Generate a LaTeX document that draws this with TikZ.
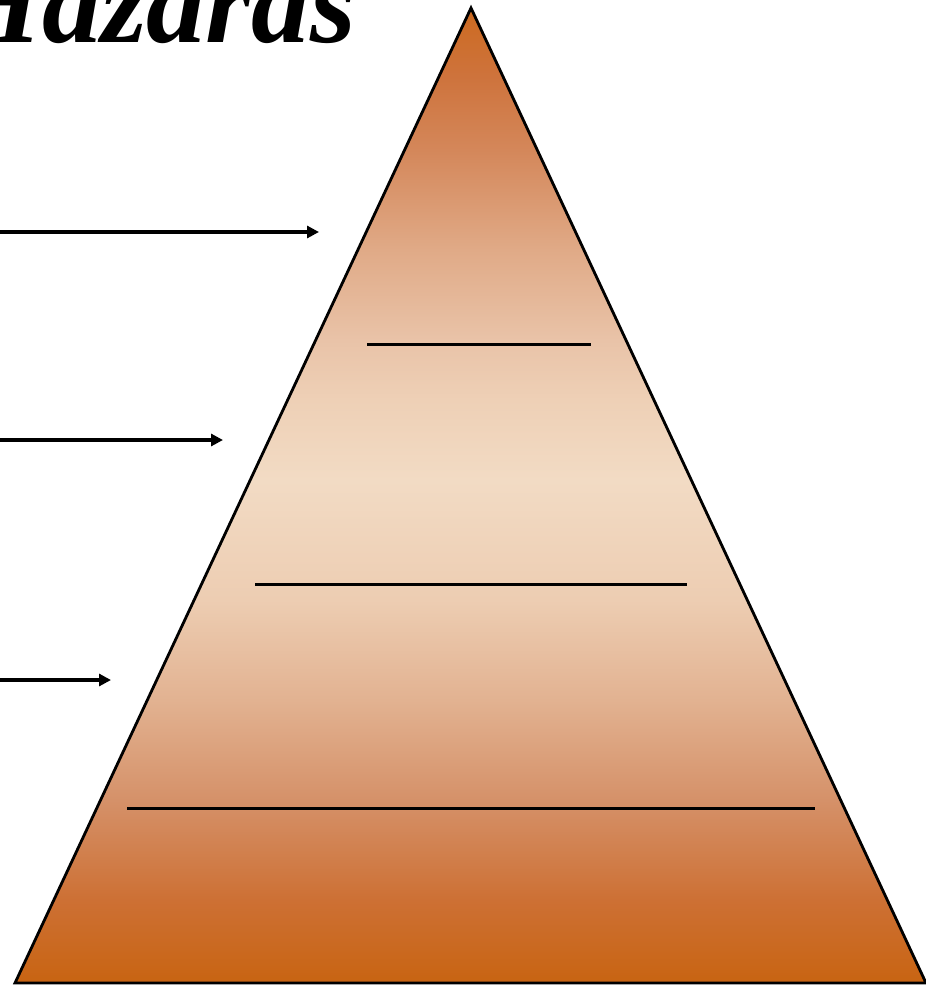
\documentclass[tikz,border=0pt]{standalone}
\usepackage{fontspec}
\setmainfont{Liberation Serif}
\usetikzlibrary{arrows.meta}
\definecolor{sA}{RGB}{200,100,18}
\definecolor{sB}{RGB}{205,112,52}
\definecolor{sC}{RGB}{213,145,105}
\definecolor{sD}{RGB}{226,178,145}
\definecolor{sE}{RGB}{237,205,178}
\definecolor{sF}{RGB}{242,219,196}
\definecolor{sG}{RGB}{238,208,182}
\definecolor{sH}{RGB}{233,195,168}
\definecolor{sI}{RGB}{224,170,135}
\definecolor{sJ}{RGB}{212,135,90}
\definecolor{sK}{RGB}{206,115,60}
\definecolor{sL}{RGB}{204,106,32}
\pgfdeclareverticalshading{pyr}{100bp}{%
  color(0bp)=(sA);
  color(25bp)=(sA);
  color(29.26bp)=(sB);
  color(34.38bp)=(sC);
  color(39.51bp)=(sD);
  color(44.64bp)=(sE);
  color(50.79bp)=(sF);
  color(54.90bp)=(sG);
  color(57.97bp)=(sH);
  color(62.59bp)=(sI);
  color(67.72bp)=(sJ);
  color(71.5bp)=(sK);
  color(75bp)=(sL);
  color(100bp)=(sL)}
\tikzset{
  arrowline/.style={line width=4.5pt,-{Triangle[length=12pt,width=12pt]}},
  divline/.style={line width=3pt},
}
\begin{document}
\begin{tikzpicture}[x=1pt,y=-1pt]
\useasboundingbox (0,0) rectangle (926,985);
\clip (0,0) rectangle (926,985);
% title
\node[anchor=base west,inner sep=0pt,font=\fontsize{118}{118}\selectfont\bfseries\itshape] (title) at (-50,42) {Hazards};
% triangle
\shade[shading=pyr] (471,8) -- (926,983) -- (15,983) -- cycle;
\draw[line width=2.8pt,line join=miter] (471,8) -- (926,983) -- (15,983) -- cycle;
% dividers
\coordinate (d1a) at (367,344); \coordinate (d1b) at (591,344);
\coordinate (d2a) at (255,584); \coordinate (d2b) at (687,584);
\coordinate (d3a) at (127,808); \coordinate (d3b) at (815,808);
\draw[divline] (d1a) -- (d1b);
\draw[divline] (d2a) -- (d2b);
\draw[divline] (d3a) -- (d3b);
% arrows
\coordinate (a1s) at (-2,232); \coordinate (a1e) at (319,232);
\coordinate (a2s) at (-2,440); \coordinate (a2e) at (223,440);
\coordinate (a3s) at (-2,680); \coordinate (a3e) at (111,680);
\draw[arrowline] (a1s) -- (a1e);
\draw[arrowline] (a2s) -- (a2e);
\draw[arrowline] (a3s) -- (a3e);
\end{tikzpicture}
\end{document}
